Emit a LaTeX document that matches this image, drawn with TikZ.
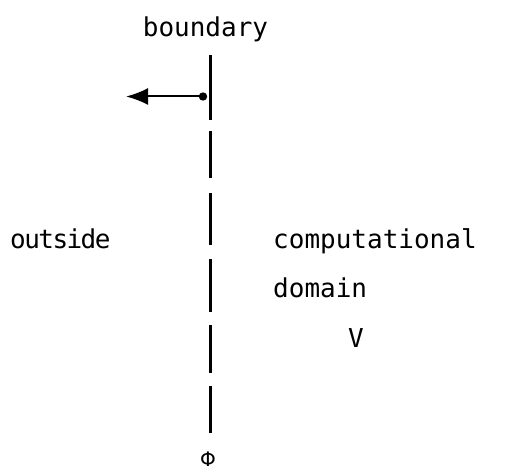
\documentclass[tikz,border=0pt]{standalone}
\usepackage{fontspec}
\setmonofont{DejaVu Sans Mono}
\newfontfamily\phifont{DejaVu Sans}
\usetikzlibrary{arrows.meta}
\tikzset{
  lbl/.style={inner sep=0pt, font=\ttfamily\fontsize{26}{30}\selectfont},
  bline/.style={line width=3.2pt},
  arr/.style={line width=2pt, -{Latex[length=22pt,width=17pt]}}
}
\begin{document}
\begin{tikzpicture}[x=1pt,y=-1pt]
\useasboundingbox (0,0) rectangle (508,473);
\node[lbl, anchor=base] (bnd) at (205.5,37) {boundary};
\node[lbl, anchor=base west] (out) at (10,248) {\addfontfeature{LetterSpace=-6}outside};
\node[lbl, anchor=base west] (comp) at (273,248) {computational};
\node[lbl, anchor=base west] (dom) at (273,297) {domain};
\node[lbl, anchor=base] (vol) at (356,347) {V};
\node[inner sep=0pt, anchor=base, font=\phifont\fontsize{20}{22}\selectfont] (phi) at (208,466) {Φ};
\foreach \a/\b in {55/120,131/178,193/245,259/312,325/373,386/433}
  \draw[bline] (210.5,\a) -- (210.5,\b);
\coordinate (dot) at (203,96.5);
\coordinate (tip) at (126,96.5);
\fill (dot) circle (4.2);
\draw[arr] (dot) -- (tip);
\end{tikzpicture}
\end{document}
